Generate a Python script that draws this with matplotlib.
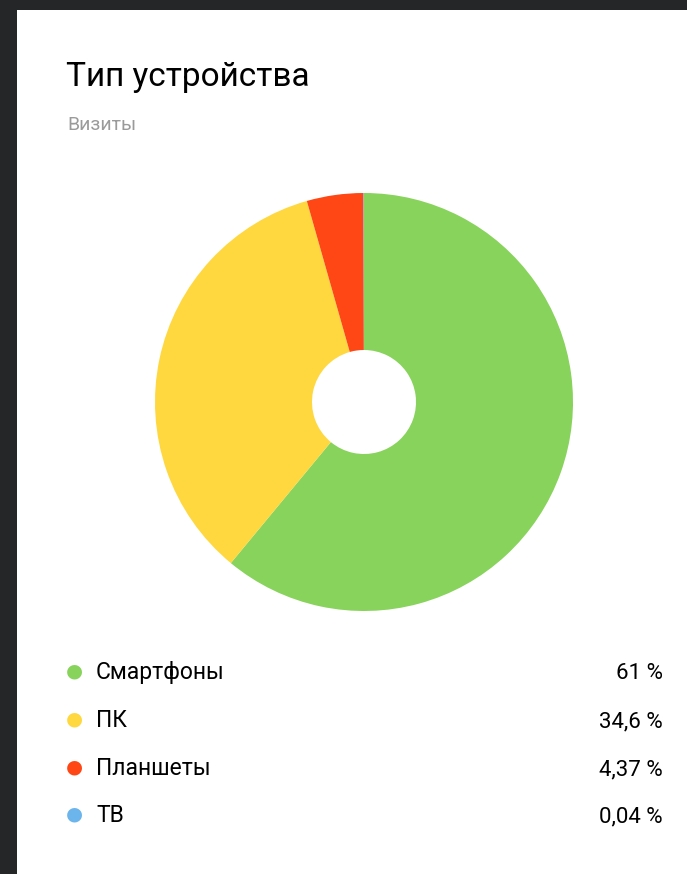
import matplotlib
matplotlib.use("Agg")
import matplotlib.pyplot as plt
from matplotlib.patches import Rectangle

# data
categories = ["Смартфоны", "ПК", "Планшеты", "ТВ"]
shares = [61, 34.6, 4.37, 0.04]
colors = ["#87d35b", "#fed83e", "#ff4716", "#6bb4ec"]

title = "Тип устройства"
subtitle = "Визиты"

plt.rcParams['font.family'] = ['Roboto', 'DejaVu Sans']

W, H = 687, 874
fig = plt.figure(figsize=(W / 100, H / 100), dpi=100)
fig.patch.set_facecolor("#252628")

# white card
fig.patches.append(Rectangle((17 / W, 0), 1 - 17 / W, 1 - 10 / H,
                             transform=fig.transFigure, facecolor="white",
                             edgecolor="none", zorder=-10))

def fx(px):
    return px / W

def fy(py):
    return 1 - py / H

fig.text(fx(66), fy(86), title, fontsize=24, color="#000000", va="baseline", ha="left")
fig.text(fx(67), fy(130), subtitle, fontsize=14, color="#9a9a9a", va="baseline", ha="left")

# donut
cx, cy, r, hole = 364, 402, 209, 52
ax = fig.add_axes([fx(cx - r), fy(cy + r), 2 * r / W, 2 * r / H])
ax.set_zorder(5)
ax.pie(shares, colors=colors, startangle=90, counterclock=False, radius=1,
       wedgeprops=dict(width=1 - hole / r, linewidth=0))
ax.set_xlim(-1, 1)
ax.set_ylim(-1, 1)
ax.set_aspect("equal")
ax.axis("off")

# legend rows
rows_y = [679, 727, 775, 822]
for name, val, col, y in zip(categories, shares, colors, rows_y):
    fig.text(fx(74), fy(y - 8), "\u25cf", fontsize=14, color=col, va="center", ha="center",
             family="DejaVu Sans")
    fig.text(fx(96), fy(y), name, fontsize=16.5, color="#000000", va="baseline", ha="left")
    txt = ("%g" % val).replace(".", ",") + " %"
    fig.text(fx(663), fy(y), txt, fontsize=16, color="#000000", va="baseline", ha="right")

fig.savefig("out.png", dpi=100, facecolor=fig.get_facecolor())
